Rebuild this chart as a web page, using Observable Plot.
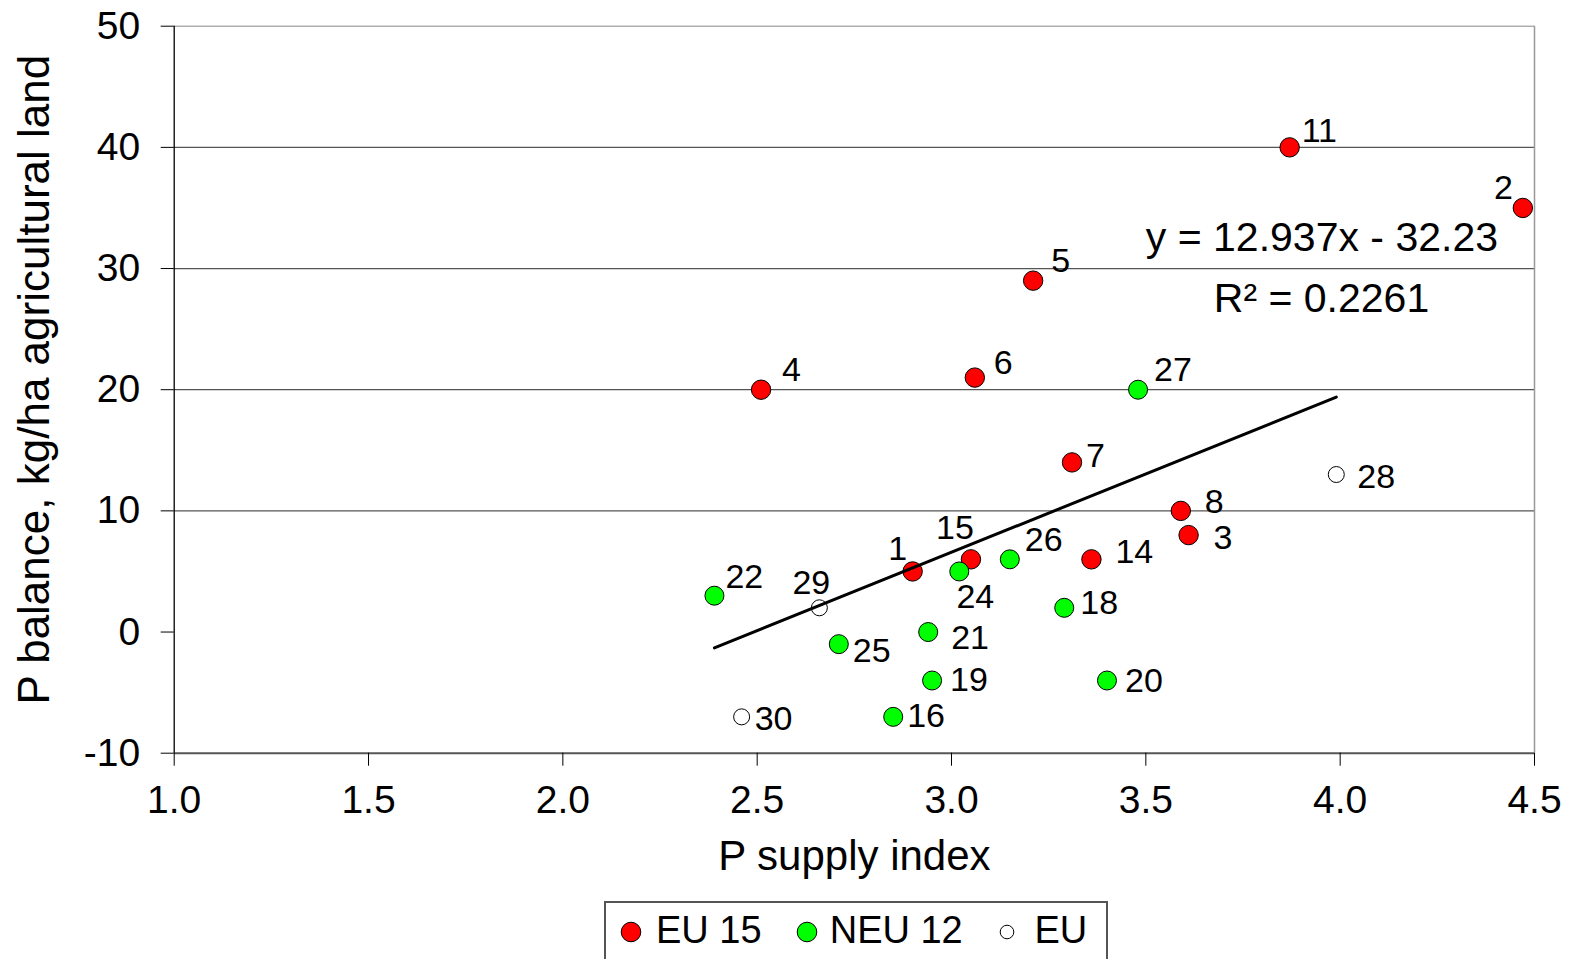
<!DOCTYPE html>
<html>
<head>
<meta charset="utf-8">
<script src="https://cdn.jsdelivr.net/npm/d3@7"></script>
<script src="https://cdn.jsdelivr.net/npm/@observablehq/plot@0.6"></script>
<style>
  html, body { margin: 0; padding: 0; background: #fff; }
  body { width: 1575px; height: 959px; overflow: hidden; position: relative; font-family: 'Liberation Sans', Arial, sans-serif; }
  #chart svg { display: block; }
  #legend { position: absolute; left: 603.7px; top: 901px; width: 504px; height: 80px; border: 2px solid #555; box-sizing: border-box; background: #fff; }
  #legend .sym { position: absolute; top: 17.7px; width: 22px; height: 22px; }
  #legend .txt { position: absolute; top: 8.1px; font-size: 38px; line-height: 38px; color: #000; white-space: nowrap; }
</style>
</head>
<body>
<div id="chart"></div>
<div id="legend"></div>
<script>
// ---- data ----
const eu15Ids = [1, 2, 3, 4, 5, 6, 7, 8, 11, 14, 15];
const eu15X   = [2.90, 4.47, 3.61, 2.51, 3.21, 3.06, 3.31, 3.59, 3.87, 3.36, 3.05];
const eu15Y   = [5, 35, 8, 20, 29, 21, 14, 10, 40, 6, 6];

const neu12Ids = [16, 18, 19, 20, 21, 22, 24, 25, 26, 27];
const neu12X   = [2.85, 3.29, 2.95, 3.40, 2.94, 2.39, 3.02, 2.71, 3.15, 3.48];
const neu12Y   = [-7, 2, -4, -4, 0, 3, 5, -1, 6, 20];

const euIds = [28, 29, 30];
const euX   = [3.99, 2.66, 2.46];
const euY   = [13, 2, -7];

const seriesNames = ["EU 15", "NEU 12", "EU"];
const trendSlope = 12.937;
const trendIntercept = -32.23;
const trendXRange = [2.39, 3.99];
const equationText = "y = 12.937x - 32.23";
const r2Text = "R\u00B2 = 0.2261";

const xTicks = [1.0, 1.5, 2.0, 2.5, 3.0, 3.5, 4.0, 4.5];
const yTicks = [-10, 0, 10, 20, 30, 40, 50];
const yGrid = [10, 20, 30, 40];
const xTitle = "P supply index";
const yTitle = "P balance, kg/ha agricultural land";

// ---- label placement (anchor, dx, dy in px) ----
const labelPlace = {
  1: ["middle", -15, -22], 2: ["end", -10, -20], 3: ["start", 25, 3], 4: ["start", 21, -20],
  5: ["start", 18, -20], 6: ["start", 19, -14], 7: ["start", 14, -6], 8: ["start", 24, -9],
  11: ["start", 12, -16], 14: ["start", 24, -7], 15: ["middle", -16, -31], 16: ["start", 14, -1],
  18: ["start", 16, -5], 19: ["start", 18, 0], 20: ["start", 18, 1], 21: ["start", 23, 6],
  22: ["start", 11, -19], 24: ["middle", 16, 26], 25: ["start", 14, 7], 26: ["start", 15, -19],
  27: ["start", 16, -20], 28: ["start", 21, 3], 29: ["middle", -8, -25], 30: ["start", 13, 2]
};

const colors = {"EU 15": "#ff0000", "NEU 12": "#00ff00", "EU": "#ffffff"};
const radius = {"EU 15": 9.7, "NEU 12": 9.5, "EU": 8};

const mk = (ids, xs, ys, g) => ids.map((id, i) => ({id, x: xs[i], y: ys[i], group: g}));
const eu15 = mk(eu15Ids, eu15X, eu15Y, seriesNames[0]);
const neu12 = mk(neu12Ids, neu12X, neu12Y, seriesNames[1]);
const eu = mk(euIds, euX, euY, seriesNames[2]);
const allPts = [...eu15, ...neu12, ...eu];
const trend = trendXRange.map(x => ({x, y: trendSlope * x + trendIntercept}));

const dotMark = (data, g) => Plot.dot(data, {x: "x", y: "y", r: radius[g], fill: colors[g], stroke: "#000", strokeWidth: 1});

const labelMarks = allPts.map(p => {
  const [anchor, dx, dy] = labelPlace[p.id];
  return Plot.text([p], {x: "x", y: "y", text: d => String(d.id), fontSize: 34, textAnchor: anchor, lineAnchor: "middle", dx, dy, fill: "#000"});
});

const H = 896;
const chart = Plot.plot({
  width: 1575,
  height: H,
  marginLeft: 173.7,
  marginRight: 41,
  marginTop: 25.7,
  marginBottom: H - 752.7,
  style: {fontFamily: "'Liberation Sans', Arial, sans-serif", fontSize: "39px", color: "#000", background: "#fff", overflow: "visible"},
  x: {domain: [1, 4.5]},
  y: {domain: [-10, 50]},
  marks: [
    Plot.ruleY(yGrid, {stroke: "#555", strokeWidth: 1.3}),
    Plot.ruleY([50], {stroke: "#888", strokeWidth: 1}),
    Plot.ruleX([4.5], {stroke: "#999", strokeWidth: 1.5}),
    Plot.ruleY([-10], {stroke: "#555", strokeWidth: 2}),
    Plot.ruleX([1], {stroke: "#000", strokeWidth: 1.3}),
    Plot.axisX({ticks: xTicks, tickFormat: d => d.toFixed(1), tickSize: 13, tickPadding: 19, fontSize: 39, label: null}),
    Plot.axisY({ticks: yTicks, tickFormat: d => String(d), tickSize: 13, tickPadding: 21, fontSize: 39, label: null}),
    dotMark(eu15, "EU 15"),
    dotMark(neu12, "NEU 12"),
    dotMark(eu, "EU"),
    Plot.line(trend, {x: "x", y: "y", stroke: "#000", strokeWidth: 3}),
    ...labelMarks,
    Plot.text([equationText], {x: 3.953, y: 32.57, fontSize: 41, textAnchor: "middle", lineAnchor: "middle", fill: "#000"}),
    Plot.text([r2Text], {x: 3.952, y: 27.48, fontSize: 41, textAnchor: "middle", lineAnchor: "middle", fill: "#000"}),
    Plot.text([xTitle], {frameAnchor: "bottom", textAnchor: "middle", lineAnchor: "middle", dy: 103.8, fontSize: 42, fill: "#000"}),
    Plot.text([yTitle], {frameAnchor: "left", textAnchor: "middle", lineAnchor: "middle", rotate: -90, dx: -139.7, dy: -10, fontSize: 44, fill: "#000"})
  ]
});
document.getElementById("chart").appendChild(chart);

// ---- legend ----
const legend = document.getElementById("legend");
const legendLayout = [
  {name: seriesNames[0], symLeft: 14.3, txtLeft: 50.3},
  {name: seriesNames[1], symLeft: 190.3, txtLeft: 224},
  {name: seriesNames[2], symLeft: 390.7, txtLeft: 428.8}
];
const legendR = {"EU 15": 9.8, "NEU 12": 9.8, "EU": 6.8};
legendLayout.forEach(item => {
  const ns = "http://www.w3.org/2000/svg";
  const s = document.createElementNS(ns, "svg");
  s.setAttribute("class", "sym");
  s.setAttribute("width", 22); s.setAttribute("height", 22);
  s.style.left = item.symLeft + "px";
  const c = document.createElementNS(ns, "circle");
  c.setAttribute("cx", 11); c.setAttribute("cy", 11); c.setAttribute("r", legendR[item.name]);
  c.setAttribute("fill", colors[item.name]); c.setAttribute("stroke", "#000"); c.setAttribute("stroke-width", 1);
  s.appendChild(c);
  legend.appendChild(s);
  const t = document.createElement("span");
  t.className = "txt";
  t.style.left = item.txtLeft + "px";
  t.textContent = item.name;
  legend.appendChild(t);
});
</script>
</body>
</html>
